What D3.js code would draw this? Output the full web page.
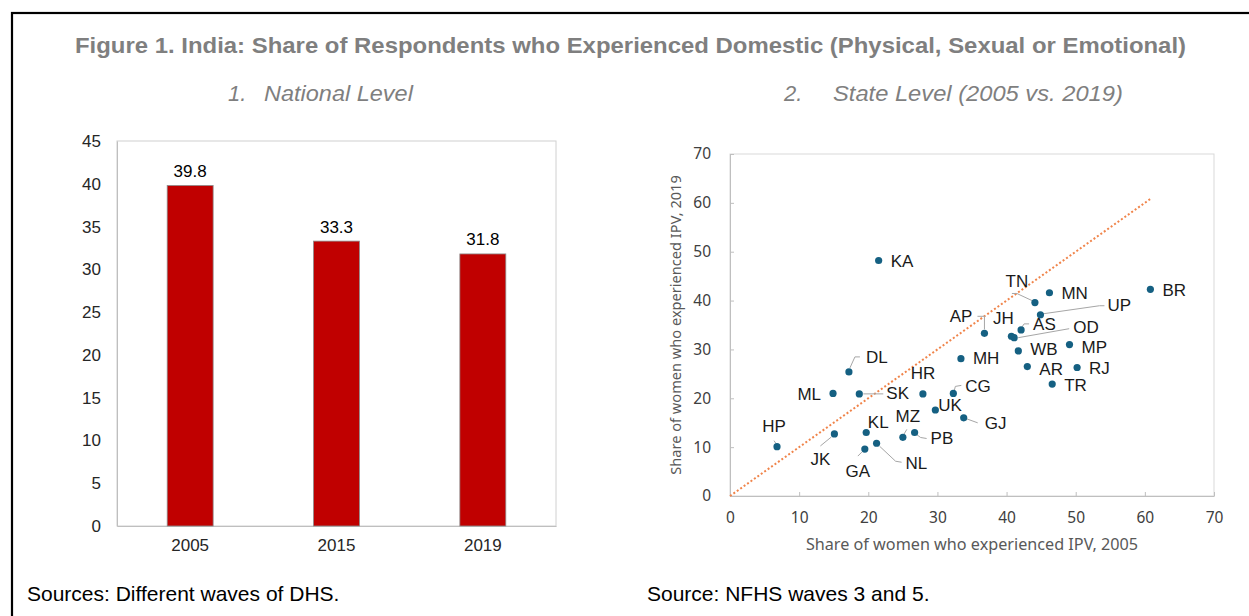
<!DOCTYPE html>
<html>
<head>
<meta charset="utf-8">
<script src="https://cdn.jsdelivr.net/npm/d3@7"></script>
<style>
  html, body { margin: 0; padding: 0; background: #fff; }
  svg { display: block; }
</style>
</head>
<body>
<svg id="chart" width="1249" height="616"></svg>
<script>
// ---------- DATA ----------
const titleText = "Figure 1. India: Share of Respondents who Experienced Domestic (Physical, Sexual or Emotional)";
const panel1Num = "1.";
const panel1Title = "National Level";
const panel2Num = "2.";
const panel2Title = "State Level (2005 vs. 2019)";
const source1 = "Sources: Different waves of DHS.";
const source2 = "Source: NFHS waves 3 and 5.";

// Panel 1: national level
const years = ["2005", "2015", "2019"];
const nationalShare = [39.8, 33.3, 31.8];
const barTicks = [0, 5, 10, 15, 20, 25, 30, 35, 40, 45];

// Panel 2: state level
const states = ["KA","BR","MN","TN","UP","AP","JH","AS","OD","MP","WB","MH","AR","RJ","TR",
                "DL","ML","SK","HR","CG","UK","GJ","HP","JK","KL","GA","NL","MZ","PB"];
const ipv2005 = [21.5,60.8,46.2,44.1,44.9,36.8,40.7,42.1,41.1,49.1,41.7,33.4,43.0,50.2,46.6,
                 17.2,14.9,18.7,27.9,32.3,29.7,33.8,6.8,15.1,19.7,19.5,21.2,25.0,26.7];
const ipv2019 = [48.2,42.3,41.6,39.6,37.1,33.3,32.7,34.0,32.4,31.0,29.7,28.1,26.5,26.3,22.9,
                 25.4,21.0,20.9,20.9,21.0,17.6,16.0,10.1,12.7,13.0,9.6,10.8,12.0,13.0];
const diagonal = [0, 60.8];
const scatterTicks = [0, 10, 20, 30, 40, 50, 60, 70];
const xTitle = "Share of women who experienced IPV, 2005";
const yTitle = "Share of women who experienced IPV, 2019";

// ---------- LABEL LAYOUT (pixel offsets from each point) ----------
const labelLayout = {
  KA: {dx: 12, dy: 1, a: "start"},
  BR: {dx: 12, dy: 1, a: "start"},
  MN: {dx: 12, dy: 1, a: "start"},
  TN: {dx: -18, dy: -21, a: "middle", l: [[-3,-2],[-18,-9],[-23,-9]]},
  UP: {dx: 67, dy: -9, a: "start", l: [[3,-1],[59,-9],[64,-9]]},
  AP: {dx: -12, dy: -17, a: "end", l: [[0,-4],[0,-17],[-7,-17]]},
  JH: {dx: -8, dy: -18, a: "middle"},
  AS: {dx: 12, dy: -5, a: "start", l: [[1,-3],[3,-6],[8,-6]]},
  OD: {dx: 59, dy: -10, a: "start", l: [[4,0],[55,-9]]},
  MP: {dx: 12, dy: 3, a: "start"},
  WB: {dx: 12, dy: -1.5, a: "start"},
  MH: {dx: 12, dy: 0, a: "start"},
  AR: {dx: 12, dy: 2.5, a: "start"},
  RJ: {dx: 12, dy: 1, a: "start"},
  TR: {dx: 12, dy: 1.5, a: "start"},
  DL: {dx: 17, dy: -14, a: "start", l: [[1,-4],[6,-15],[11,-15]]},
  ML: {dx: -12, dy: 1, a: "end"},
  SK: {dx: 27, dy: 0, a: "start", l: [[4,0],[24,0]]},
  HR: {dx: 0, dy: -20, a: "middle"},
  CG: {dx: 12, dy: -7, a: "start", l: [[1,-3],[2,-7],[8,-8]]},
  UK: {dx: 3, dy: -5, a: "start"},
  GJ: {dx: 21, dy: 6, a: "start", l: [[3,1],[14,5]]},
  HP: {dx: -3, dy: -20, a: "middle", l: [[-1,-3],[-3,-6]]},
  JK: {dx: -14, dy: 26, a: "middle", l: [[-3,3],[-14,12]]},
  KL: {dx: 12, dy: -10, a: "middle"},
  GA: {dx: -7, dy: 22, a: "middle", l: [[-3,3],[-7,7]]},
  NL: {dx: 29, dy: 20, a: "start", l: [[3,3],[19,18],[25,19]]},
  MZ: {dx: 5, dy: -21, a: "middle", l: [[1,-3],[4,-8]]},
  PB: {dx: 16, dy: 6, a: "start", l: [[2,2],[6,5],[12,6]]}
};

// ---------- DRAW ----------
const svg = d3.select("#chart");
const arial = "'Liberation Sans', Arial, sans-serif";
const sans = "'Noto Sans', 'Open Sans', sans-serif";

// frame
svg.append("rect").attr("x", 12).attr("y", 13).attr("width", 1300).attr("height", 700)
  .attr("fill", "none").attr("stroke", "#000").attr("stroke-width", 2.2);

// text stretched horizontally to a target width (reference text is wide-set)
function wideText(x, y, text, width, size, weight, style) {
  const t = svg.append("text").attr("x", 0).attr("y", 0).attr("text-anchor", "start")
    .attr("dominant-baseline", "central")
    .style("font-family", arial).style("font-size", size + "px")
    .style("font-weight", weight || "normal").style("font-style", style || "normal")
    .attr("fill", "#7f7f7f").text(text);
  let k = 1;
  if (width) {
    const w = t.node().getComputedTextLength();
    if (w > 0) k = width / w;
  }
  t.attr("transform", `translate(${x},${y}) scale(${k},1)`);
}
wideText(75, 45.5, titleText, 1112, 22, "bold");
wideText(228, 93.5, panel1Num, null, 22, "normal", "italic");
wideText(264, 93.5, panel1Title, 149, 22, "normal", "italic");
wideText(784, 93.5, panel2Num, null, 22, "normal", "italic");
wideText(833, 93.5, panel2Title, 290, 22, "normal", "italic");

// ----- Panel 1: bars -----
const bx = d3.scaleBand().domain(years).range([117, 556]).paddingInner(0.686).paddingOuter(0.343);
const by = d3.scaleLinear().domain([0, 45]).range([526, 141]);

const g1 = svg.append("g");
g1.append("rect").attr("x", 117).attr("y", 141).attr("width", 556 - 117).attr("height", 526 - 141)
  .attr("fill", "none").attr("stroke", "#d0d0d0").attr("stroke-width", 1);

const yAx1 = g1.append("g").attr("transform", "translate(117,0)")
  .call(d3.axisLeft(by).tickValues(barTicks).tickSize(0).tickPadding(16));
yAx1.select(".domain").attr("stroke", "#bfbfbf");
yAx1.selectAll("text").style("font-family", arial).style("font-size", "17px").attr("fill", "#262626");

const xAx1 = g1.append("g").attr("transform", "translate(0,526)")
  .call(d3.axisBottom(bx).tickSize(0).tickPadding(13));
xAx1.select(".domain").attr("stroke", "#bfbfbf");
xAx1.selectAll("text").style("font-family", arial).style("font-size", "17px").attr("fill", "#262626");

g1.selectAll("rect.bar").data(years).join("rect").attr("class", "bar")
  .attr("x", d => bx(d)).attr("width", bx.bandwidth())
  .attr("y", (d, i) => by(nationalShare[i]))
  .attr("height", (d, i) => by(0) - by(nationalShare[i]))
  .attr("fill", "#c00000").attr("stroke", "#8c8c8c").attr("stroke-width", 0.8);

g1.selectAll("text.val").data(years).join("text").attr("class", "val")
  .attr("x", d => bx(d) + bx.bandwidth() / 2)
  .attr("y", (d, i) => by(nationalShare[i]) - 14)
  .attr("text-anchor", "middle").attr("dominant-baseline", "central")
  .style("font-family", arial).style("font-size", "17px").attr("fill", "#000")
  .text((d, i) => nationalShare[i].toFixed(1));

svg.append("text").attr("x", 27).attr("y", 593).attr("dominant-baseline", "central")
  .style("font-family", arial).style("font-size", "21px").attr("fill", "#000").text(source1);

// ----- Panel 2: scatter -----
const sx = d3.scaleLinear().domain([0, 70]).range([730, 1214]);
const sy = d3.scaleLinear().domain([0, 70]).range([496, 154]);
const g2 = svg.append("g");

g2.append("rect").attr("x", 730).attr("y", 154).attr("width", 1214 - 730).attr("height", 496 - 154)
  .attr("fill", "none").attr("stroke", "#d9d9d9").attr("stroke-width", 1);

const xAx2 = g2.append("g").attr("transform", "translate(0,496)")
  .call(d3.axisBottom(sx).tickValues(scatterTicks).tickSizeInner(-4).tickSizeOuter(0).tickPadding(16));
xAx2.select(".domain").attr("stroke", "#bfbfbf");
xAx2.selectAll(".tick line").attr("stroke", "#bfbfbf");
xAx2.selectAll("text").style("font-family", sans).style("font-size", "15.5px").attr("fill", "#404040");

const yAx2 = g2.append("g").attr("transform", "translate(730,0)")
  .call(d3.axisLeft(sy).tickValues(scatterTicks).tickSizeInner(-4).tickSizeOuter(0).tickPadding(19));
yAx2.select(".domain").attr("stroke", "#bfbfbf");
yAx2.selectAll(".tick line").attr("stroke", "#bfbfbf");
yAx2.selectAll("text").style("font-family", sans).style("font-size", "15.5px").attr("fill", "#404040");

g2.append("text").attr("x", 972).attr("y", 544).attr("text-anchor", "middle")
  .attr("dominant-baseline", "central")
  .style("font-family", sans).style("font-size", "16.2px").attr("fill", "#595959").text(xTitle);
g2.append("text").attr("transform", "translate(675,325) rotate(-90)").attr("text-anchor", "middle")
  .attr("dominant-baseline", "central")
  .style("font-family", sans).style("font-size", "14.6px").attr("fill", "#595959").text(yTitle);

// diagonal
g2.append("line")
  .attr("x1", sx(diagonal[0])).attr("y1", sy(diagonal[0]))
  .attr("x2", sx(diagonal[1])).attr("y2", sy(diagonal[1]))
  .attr("stroke", "#f0844a").attr("stroke-width", 2).attr("stroke-dasharray", "2,2.2");

// leader lines
const lineGen = d3.line();
states.forEach((s, i) => {
  const L = labelLayout[s];
  if (L && L.l) {
    const px = sx(ipv2005[i]), py = sy(ipv2019[i]);
    g2.append("path").attr("d", lineGen(L.l.map(p => [px + p[0], py + p[1]])))
      .attr("fill", "none").attr("stroke", "#a6a6a6").attr("stroke-width", 1);
  }
});

// points
g2.selectAll("circle.pt").data(states).join("circle").attr("class", "pt")
  .attr("cx", (d, i) => sx(ipv2005[i])).attr("cy", (d, i) => sy(ipv2019[i]))
  .attr("r", 3.6).attr("fill", "#156082");

// labels
g2.selectAll("text.lab").data(states).join("text").attr("class", "lab")
  .attr("x", (d, i) => sx(ipv2005[i]) + labelLayout[d].dx)
  .attr("y", (d, i) => sy(ipv2019[i]) + labelLayout[d].dy)
  .attr("text-anchor", d => labelLayout[d].a).attr("dominant-baseline", "central")
  .style("font-family", arial).style("font-size", "17px").attr("fill", "#1a1a1a")
  .text(d => d);

svg.append("text").attr("x", 647).attr("y", 593).attr("dominant-baseline", "central")
  .style("font-family", arial).style("font-size", "21px").attr("fill", "#000").text(source2);
</script>
</body>
</html>
